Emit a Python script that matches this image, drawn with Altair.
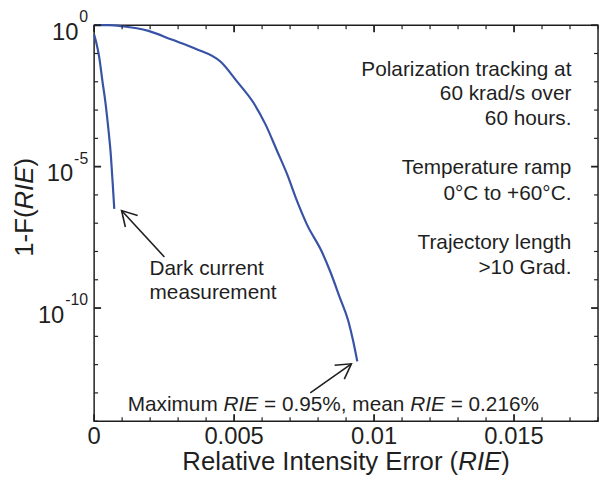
import altair as alt
import pandas as pd

# ---------------- data ----------------
track_rie = [0, 0.00053, 0.001, 0.00194, 0.00277, 0.0036, 0.00453, 0.00513, 0.00571,
             0.00613, 0.00654, 0.0069, 0.00725, 0.0076, 0.00813, 0.00843, 0.00878,
             0.00908, 0.00925, 0.0094]
track_p = [1.0, 1.0, 0.92, 0.63, 0.31, 0.15, 5.0e-2, 9.5e-3, 1.7e-3,
           3.0e-4, 3.5e-5, 5.2e-6, 6.0e-7, 9.1e-8, 1.0e-8, 2.0e-9, 2.3e-10,
           3.5e-11, 7.1e-12, 1.3e-12]
dark_rie = [0, 0.00007, 0.00018, 0.0003, 0.0004, 0.0005, 0.0006, 0.00067, 0.00072]
dark_p = [0.47, 0.26, 7.6e-2, 1.0e-2, 2.0e-3, 2.6e-4, 2.3e-5, 2.0e-6, 3.2e-7]

x_tick_values = [0, 0.005, 0.01, 0.015]
x_tick_labels = ["0", "0.005", "0.01", "0.015"]
y_tick_values = [1, 1e-5, 1e-10]
y_tick_exponents = ["0", "-5", "-10"]

right_notes = ["Polarization tracking at", "60 krad/s over", "60 hours.",
               "Temperature ramp", "0\u00b0C to +60\u00b0C.",
               "Trajectory length", ">10 Grad."]
dark_notes = ["Dark current", "measurement"]

# ---------------- layout / style ----------------
W, H = 509, 400
FONT = "Liberation Sans"
INK = "#1f1f1f"
BLUE = "#3853a6"
TICK_FS, NOTE_FS, TITLE_FS, EXP_FS = 24, 21, 26, 16

xs = alt.Scale(domain=[0, 0.018], nice=False, zero=False)
ys = alt.Scale(type="log", domain=[1e-14, 1], nice=False)

AW = {' ': 278, '!': 278, '%': 889, '(': 333, ')': 333, '+': 584, ',': 278, '-': 333,
      '.': 278, '/': 278, '=': 584, '>': 584, '\u00b0': 400,
      'A': 667, 'B': 667, 'C': 722, 'D': 722, 'E': 667, 'F': 611, 'G': 778, 'H': 722,
      'I': 278, 'J': 500, 'K': 667, 'L': 556, 'M': 833, 'N': 722, 'O': 778, 'P': 667,
      'Q': 778, 'R': 722, 'S': 667, 'T': 611, 'U': 722, 'V': 667, 'W': 944, 'X': 667,
      'Y': 667, 'Z': 611,
      'a': 556, 'b': 556, 'c': 500, 'd': 556, 'e': 556, 'f': 278, 'g': 556, 'h': 556,
      'i': 222, 'j': 222, 'k': 500, 'l': 222, 'm': 833, 'n': 556, 'o': 556, 'p': 556,
      'q': 556, 'r': 333, 's': 500, 't': 278, 'u': 556, 'v': 500, 'w': 722, 'x': 500,
      'y': 500, 'z': 500}


def tw(s, fs):
    return sum(AW.get(c, 556) for c in s) * fs / 1000.0


def one(t):
    return pd.DataFrame({"t": [t]})


layers = []

# ---------------- curves ----------------
lines_df = pd.DataFrame({
    "rie": track_rie + dark_rie,
    "p": track_p + dark_p,
    "series": ["track"] * len(track_rie) + ["dark"] * len(dark_rie),
})
layers.append(
    alt.Chart(lines_df).mark_line(color=BLUE, strokeWidth=2.2, interpolate="monotone").encode(
        x=alt.X("rie:Q", scale=xs, axis=None),
        y=alt.Y("p:Q", scale=ys, axis=None),
        detail="series:N",
    )
)

# ---------------- inward ticks on all four sides ----------------
x_minor = pd.DataFrame({"v": [i / 1000 for i in range(19) if i % 5]})
x_major = pd.DataFrame({"v": x_tick_values})
y_minor = pd.DataFrame({"v": [10.0 ** -k for k in range(15) if k % 5]})
y_major = pd.DataFrame({"v": y_tick_values})

for df, ln, sw in [(x_minor, 4, 1.2), (x_major, 7, 1.8)]:
    for y0, y1 in [(H, H - ln), (0, ln)]:
        layers.append(alt.Chart(df).mark_rule(color=INK, strokeWidth=sw).encode(
            x=alt.X("v:Q", scale=xs, axis=None), y=alt.value(y0), y2=alt.value(y1)))
for df, ln, sw in [(y_minor, 4, 1.2), (y_major, 7, 1.8)]:
    for x0, x1 in [(0, ln), (W, W - ln)]:
        layers.append(alt.Chart(df).mark_rule(color=INK, strokeWidth=sw).encode(
            y=alt.Y("v:Q", scale=ys, axis=None), x=alt.value(x0), x2=alt.value(x1)))

# ---------------- tick labels ----------------
layers.append(
    alt.Chart(pd.DataFrame({"v": x_tick_values, "t": x_tick_labels})).mark_text(
        font=FONT, fontSize=TICK_FS, color=INK, align="center", baseline="middle"
    ).encode(x=alt.X("v:Q", scale=xs, axis=None), y=alt.value(H + 16), text="t:N")
)
for val, ex in zip(y_tick_values, y_tick_exponents):
    wexp = tw(ex, EXP_FS)
    d = pd.DataFrame({"v": [val], "b": ["10"], "e": [ex]})
    layers.append(alt.Chart(d).mark_text(
        font=FONT, fontSize=TICK_FS, color=INK, align="right", baseline="middle", dy=8
    ).encode(y=alt.Y("v:Q", scale=ys, axis=None), x=alt.value(-6 - wexp - 1), text="b:N"))
    layers.append(alt.Chart(d).mark_text(
        font=FONT, fontSize=EXP_FS, color=INK, align="right", baseline="middle", dy=-8
    ).encode(y=alt.Y("v:Q", scale=ys, axis=None), x=alt.value(-6), text="e:N"))

# ---------------- axis titles (with italic RIE) ----------------
xt_parts = [("Relative Intensity Error (", "normal"), ("RIE", "italic"), (")", "normal")]
total = tw("".join(p for p, _ in xt_parts), TITLE_FS)
cx = W / 2 - total / 2
for part, style in xt_parts:
    layers.append(alt.Chart(one(part)).mark_text(
        font=FONT, fontSize=TITLE_FS, fontStyle=style, color=INK, align="left", baseline="middle"
    ).encode(x=alt.value(cx), y=alt.value(H + 41), text="t:N"))
    cx += tw(part, TITLE_FS)

yt_parts = [("1-F(", "normal"), ("RIE", "italic"), (")", "normal")]
total = tw("".join(p for p, _ in yt_parts), TITLE_FS)
ystart = 184 + total / 2
off = 0.0
for part, style in yt_parts:
    layers.append(alt.Chart(one(part)).mark_text(
        font=FONT, fontSize=TITLE_FS, fontStyle=style, color=INK, align="left",
        baseline="middle", angle=270, dx=off
    ).encode(x=alt.value(-70), y=alt.value(ystart), text="t:N"))
    off += tw(part, TITLE_FS)

# ---------------- annotations ----------------
right_y = [2.67e-2, 3.81e-3, 5.0e-4, 8.7e-6, 1.07e-6, 2.0e-8, 2.6e-9]
layers.append(alt.Chart(pd.DataFrame({"t": right_notes, "y": right_y, "x": [0.01705] * 7})).mark_text(
    font=FONT, fontSize=NOTE_FS, color=INK, align="right", baseline="middle"
).encode(x=alt.X("x:Q", scale=xs, axis=None), y=alt.Y("y:Q", scale=ys, axis=None), text="t:N"))

layers.append(alt.Chart(pd.DataFrame({"t": dark_notes, "y": [2.4e-9, 3.5e-10], "x": [0.00198] * 2})).mark_text(
    font=FONT, fontSize=NOTE_FS, color=INK, align="left", baseline="middle"
).encode(x=alt.X("x:Q", scale=xs, axis=None), y=alt.Y("y:Q", scale=ys, axis=None), text="t:N"))

bottom_parts = [("Maximum", "normal", "Maximum "),
                ("RIE", "italic", "RIE "),
                ("= 0.95%, mean", "normal", "= 0.95%, mean "),
                ("RIE", "italic", "RIE "),
                ("= 0.216%", "normal", "= 0.216%")]
off = 0.0
for part, style, adv in bottom_parts:
    layers.append(alt.Chart(pd.DataFrame({"t": [part], "x": [0.0012], "y": [3.6e-14]})).mark_text(
        font=FONT, fontSize=NOTE_FS, fontStyle=style, color=INK, align="left",
        baseline="middle", dx=off
    ).encode(x=alt.X("x:Q", scale=xs, axis=None), y=alt.Y("y:Q", scale=ys, axis=None), text="t:N"))
    off += tw(adv, NOTE_FS)

# ---------------- arrows ----------------
arrows = pd.DataFrame({
    "x": [0.00251, 0.00772], "y": [6.4e-9, 1.0e-13],      # tails
    "x2": [0.00098, 0.00919], "y2": [2.8e-7, 1.07e-12],  # tips
})
layers.append(alt.Chart(arrows).mark_rule(color=INK, strokeWidth=1.6).encode(
    x=alt.X("x:Q", scale=xs, axis=None), y=alt.Y("y:Q", scale=ys, axis=None),
    x2="x2:Q", y2="y2:Q"))
HEAD = "M-0.5,0.866L0,0L0.5,0.866"
for i, ang in [(0, 317), (1, 55)]:
    layers.append(alt.Chart(arrows.iloc[[i]]).mark_point(
        shape=HEAD, filled=False, size=1156, strokeWidth=1.6, color=INK, opacity=1, angle=ang
    ).encode(x=alt.X("x2:Q", scale=xs, axis=None), y=alt.Y("y2:Q", scale=ys, axis=None)))

chart = alt.layer(*layers).properties(
    width=W, height=H,
    padding={"left": 87, "top": 15, "right": 2, "bottom": 55},
    autosize=alt.AutoSizeParams(type="none"),
    background="white",
).configure_view(stroke=INK, strokeWidth=1.5)

chart.save("out.html", embed_options={"renderer": "svg", "actions": False})
